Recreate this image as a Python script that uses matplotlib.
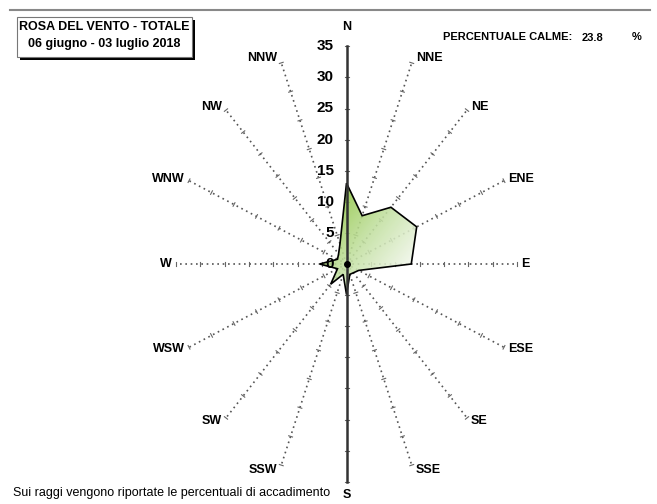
import numpy as np
import matplotlib
matplotlib.use("Agg")
import matplotlib.pyplot as plt
from matplotlib.patches import Polygon, Rectangle
from matplotlib.lines import Line2D
from matplotlib.colors import LinearSegmentedColormap

plt.rcParams['font.family'] = ['Liberation Sans', 'DejaVu Sans']

# wind rose data (% of occurrence per sector)
directions = ['N', 'NNE', 'NE', 'ENE', 'E', 'ESE', 'SE', 'SSE',
              'S', 'SSW', 'SW', 'WSW', 'W', 'WNW', 'NW', 'NNW']
freq = [13.0, 8.4, 12.9, 15.6, 13.3, 2.7, 2.0, 1.8,
        4.9, 1.8, 4.6, 2.0, 5.5, 2.0, 2.3, 3.5]
radial_ticks = [0, 5, 10, 15, 20, 25, 30, 35]
calme = 23.8
title_lines = ["ROSA DEL VENTO - TOTALE", "06 giugno - 03 luglio 2018"]
note = "Sui raggi vengono riportate le percentuali di accadimento"

W, H = 657, 504
cx, cy = 346.5, 264      # pixel position of the rose centre
sx, sy = 4.87, 6.22      # pixels per unit (chart is stretched vertically)
rmax = radial_ticks[-1]

fig = plt.figure(figsize=(W / 100, H / 100), dpi=100)
ax = fig.add_axes([0, 0, 1, 1])

theta = np.deg2rad(np.arange(len(directions)) * 22.5)

# dotted spokes with small cross ticks
for i, th in enumerate(theta):
    s, c = np.sin(th), np.cos(th)
    if i % 8 != 0:
        ax.plot([0, rmax * s], [0, rmax * c], color='#555555',
                ls=(0, (1, 2.2)), lw=1.2, zorder=1)
    # perpendicular direction in pixel space
    px, py = s * sx, c * sy
    n = np.hypot(px, py)
    qx, qy = -py / n, px / n
    hl = 2.0
    for r in radial_ticks[1:]:
        x0, y0 = r * s, r * c
        ax.plot([x0 - hl * qx / sx, x0 + hl * qx / sx],
                [y0 - hl * qy / sy, y0 + hl * qy / sy],
                color='#666666', lw=0.8, zorder=1)

# solid N-S axis
ax.plot([0, 0], [-rmax, rmax], color='#333333', lw=1.8, zorder=4)

# filled polygon with gradient
vx = [f * np.sin(t) for f, t in zip(freq, theta)]
vy = [f * np.cos(t) for f, t in zip(freq, theta)]
poly = Polygon(np.column_stack([vx, vy]), closed=True, fc='none',
               ec='black', lw=1.2, zorder=3)
ax.add_patch(poly)

cmap = LinearSegmentedColormap.from_list(
    'grn', ['#8cc43c', '#c2e0a0', '#f4f8ef'])
gx, gy = np.meshgrid(np.linspace(-20, 20, 200), np.linspace(-20, 20, 200))
grad = gx - gy
im = ax.imshow(grad, extent=[-20, 20, -20, 20], origin='lower', cmap=cmap,
               vmin=-14, vmax=14, aspect='auto', alpha=0.88, zorder=2)
im.set_clip_path(poly)
ax.set_xlim(-cx / sx, (W - cx) / sx)
ax.set_ylim(-(H - cy) / sy, cy / sy)
ax.axis('off')

ax.plot(0, 0, 'o', color='black', ms=4, zorder=5)

# radial scale labels
for v in radial_ticks:
    ax.annotate(str(v), (0, v), xytext=(-13, 0), textcoords='offset pixels',
                ha='right', va='center', fontsize=11, fontweight='bold',
                zorder=6)

# direction labels
for d, th in zip(directions, theta):
    s, c = np.sin(th), np.cos(th)
    if abs(s) < 1e-6:
        off, ha = ((0, 19) if c > 0 else (0, -13)), 'center'
    elif s > 0:
        off, ha = (4, 5 * c), 'left'
    else:
        off, ha = (-4, 5 * c), 'right'
    ax.annotate(d, (rmax * s, rmax * c), xytext=off,
                textcoords='offset pixels', ha=ha, va='center',
                fontsize=9, fontweight='bold')

# header line
fig.add_artist(Line2D([10 / W, 650 / W], [1 - 10 / H, 1 - 10 / H],
                      color='#888888', lw=1.5))

# title box with shadow
bx0, by0, bx1, by1 = 17, 17, 192, 57
fig.add_artist(Rectangle(((bx0 + 3) / W, 1 - (by1 + 3) / H),
                         (bx1 - bx0) / W, (by1 - by0) / H,
                         transform=fig.transFigure, fc='black', ec='none'))
fig.add_artist(Rectangle((bx0 / W, 1 - by1 / H),
                         (bx1 - bx0) / W, (by1 - by0) / H,
                         transform=fig.transFigure, fc='white',
                         ec='#777777', lw=0.8))
fig.text((bx0 + bx1) / 2 / W, 1 - 27 / H, title_lines[0], ha='center',
         va='center', fontsize=9, fontweight='bold')
fig.text((bx0 + bx1) / 2 / W, 1 - 44 / H, title_lines[1], ha='center',
         va='center', fontsize=9, fontweight='bold')

# calm percentage
fig.text(443 / W, 1 - 37 / H, "PERCENTUALE CALME:", ha='left', va='center',
         fontsize=8, fontweight='bold')
fig.text(593 / W, 1 - 38 / H, f"{calme}", ha='center', va='center',
         fontsize=8, fontweight='bold')
fig.text(637 / W, 1 - 37 / H, "%", ha='center', va='center',
         fontsize=8, fontweight='bold')

fig.text(13 / W, 1 - 493 / H, note, ha='left', va='center', fontsize=9)

fig.savefig("out.png", dpi=100)
